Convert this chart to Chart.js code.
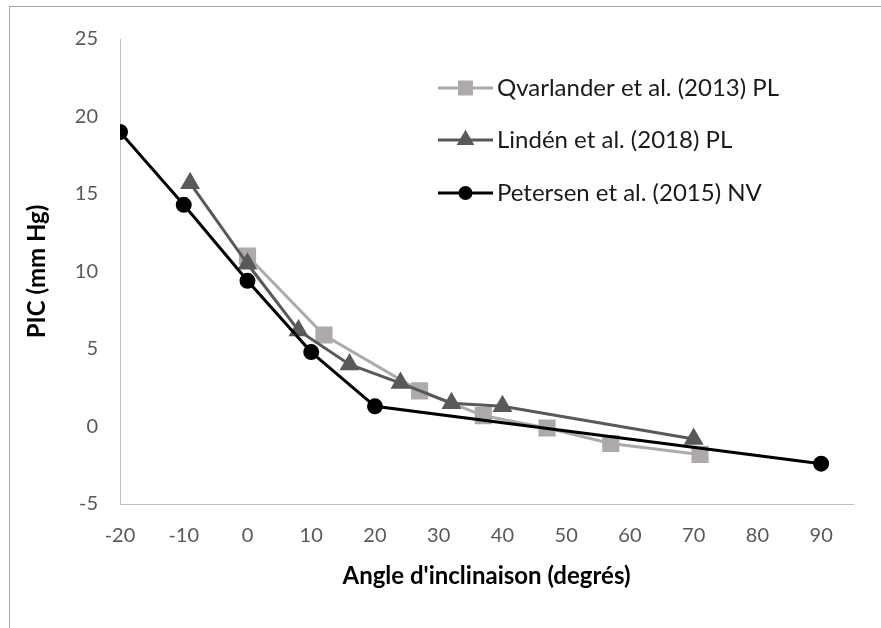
<!DOCTYPE html>
<html>
<head>
<meta charset="utf-8">
<script src="https://cdn.jsdelivr.net/npm/chart.js@4/dist/chart.umd.min.js"></script>
<style>
  body { margin: 0; background: #fff; }
  #wrap { position: relative; width: 881px; height: 628px; overflow: hidden; }
  #frame { position: absolute; left: 9px; top: 6px; width: 900px; height: 700px; border: 1px solid #a6a6a6; pointer-events: none; }
</style>
</head>
<body>
<div id="wrap">
  <canvas id="picChart" width="881" height="628"></canvas>
  <div id="frame"></div>
</div>
<script>
// angle d'inclinaison (degrés) / PIC (mm Hg)
var qvarlanderX = [0, 12, 27, 37, 47, 57, 71];
var qvarlanderY = [11.0, 5.9, 2.3, 0.7, -0.1, -1.1, -1.8];
var lindenX = [-9, 0, 8, 16, 24, 32, 40, 70];
var lindenY = [15.7, 10.5, 6.2, 4.0, 2.8, 1.5, 1.3, -0.8];
var petersenX = [-20, -10, 0, 10, 20, 90];
var petersenY = [19.0, 14.3, 9.4, 4.8, 1.3, -2.4];

var seriesNames = ["Qvarlander et al. (2013) PL", "Lindén et al. (2018) PL", "Petersen et al. (2015) NV"];

function pts(xs, ys) {
  return xs.map(function (x, i) { return {x: x, y: ys[i]}; });
}

var FONT = "Lato, 'Open Sans', sans-serif";

// legend drawn inside the plot area, like the original
var insideLegend = {
  id: 'insideLegend',
  afterDatasetsDraw: function (chart) {
    var ctx = chart.ctx;
    var x0 = 438, x1 = 493, textX = 497;
    var rows = [88, 140, 193];
    ctx.save();
    chart.data.datasets.forEach(function (ds, i) {
      var y = rows[i];
      ctx.strokeStyle = ds.borderColor;
      ctx.lineWidth = ds.borderWidth;
      ctx.beginPath();
      ctx.moveTo(x0, y);
      ctx.lineTo(x1, y);
      ctx.stroke();
      ctx.fillStyle = ds.pointBackgroundColor;
      ctx.strokeStyle = ds.pointBackgroundColor;
      Chart.helpers.drawPoint(ctx, {
        pointStyle: ds.pointStyle, radius: ds.pointRadius * 0.85, rotation: 0, borderWidth: 1
      }, (x0 + x1) / 2, y);
      ctx.fillStyle = '#1a1a1a';
      ctx.font = '24px ' + FONT;
      ctx.textBaseline = 'middle';
      ctx.textAlign = 'left';
      ctx.fillText(ds.label, textX, y);
    });
    ctx.restore();
  }
};

var picChart = new Chart("picChart", {
  type: 'line',
  data: {
    datasets: [{
      label: seriesNames[0],
      data: pts(qvarlanderX, qvarlanderY),
      borderColor: '#aeaaaa',
      backgroundColor: '#aeaaaa',
      pointBackgroundColor: '#aeaaaa',
      pointBorderColor: '#aeaaaa',
      pointStyle: 'rect',
      pointRadius: 10,
      borderWidth: 3,
      order: 3
    }, {
      label: seriesNames[1],
      data: pts(lindenX, lindenY),
      borderColor: '#595959',
      backgroundColor: '#595959',
      pointBackgroundColor: '#595959',
      pointBorderColor: '#595959',
      pointStyle: 'triangle',
      pointRadius: 8.5,
      borderWidth: 3,
      order: 2
    }, {
      label: seriesNames[2],
      data: pts(petersenX, petersenY),
      borderColor: '#000000',
      backgroundColor: '#000000',
      pointBackgroundColor: '#000000',
      pointBorderColor: '#000000',
      pointStyle: 'circle',
      pointRadius: 6.5,
      borderWidth: 3,
      order: 1
    }]
  },
  options: {
    responsive: false,
    animation: false,
    layout: {
      padding: {left: 0, right: 28, top: 39, bottom: 0}
    },
    elements: {
      line: { tension: 0 },
      point: { borderWidth: 1, hoverRadius: 6 }
    },
    plugins: {
      legend: { display: false },
      tooltip: { enabled: false }
    },
    scales: {
      x: {
        type: 'linear',
        min: -20,
        max: 95,
        grid: { display: false, drawTicks: false },
        border: { display: true, color: '#bfbfbf', width: 1 },
        ticks: {
          stepSize: 10,
          includeBounds: false,
          padding: 20,
          color: '#595959',
          font: { family: FONT, size: 20 }
        },
        title: {
          display: true,
          text: "Angle d'inclinaison (degrés)",
          color: '#000',
          font: { family: FONT, size: 24, weight: 'bold' },
          padding: { top: 0, bottom: 37 }
        },
        afterFit: function (scale) { scale.height = 124; }
      },
      y: {
        min: -5,
        max: 25,
        grid: { display: false, drawTicks: false },
        border: { display: true, color: '#bfbfbf', width: 1 },
        ticks: {
          stepSize: 5,
          padding: 22,
          color: '#595959',
          font: { family: FONT, size: 20 }
        },
        title: {
          display: true,
          text: 'PIC (mm Hg)',
          color: '#000',
          font: { family: FONT, size: 24, weight: 'bold' },
          padding: { top: 23, bottom: 0 }
        },
        afterFit: function (scale) { scale.width = 120; }
      }
    }
  },
  plugins: [insideLegend]
});
</script>
</body>
</html>
